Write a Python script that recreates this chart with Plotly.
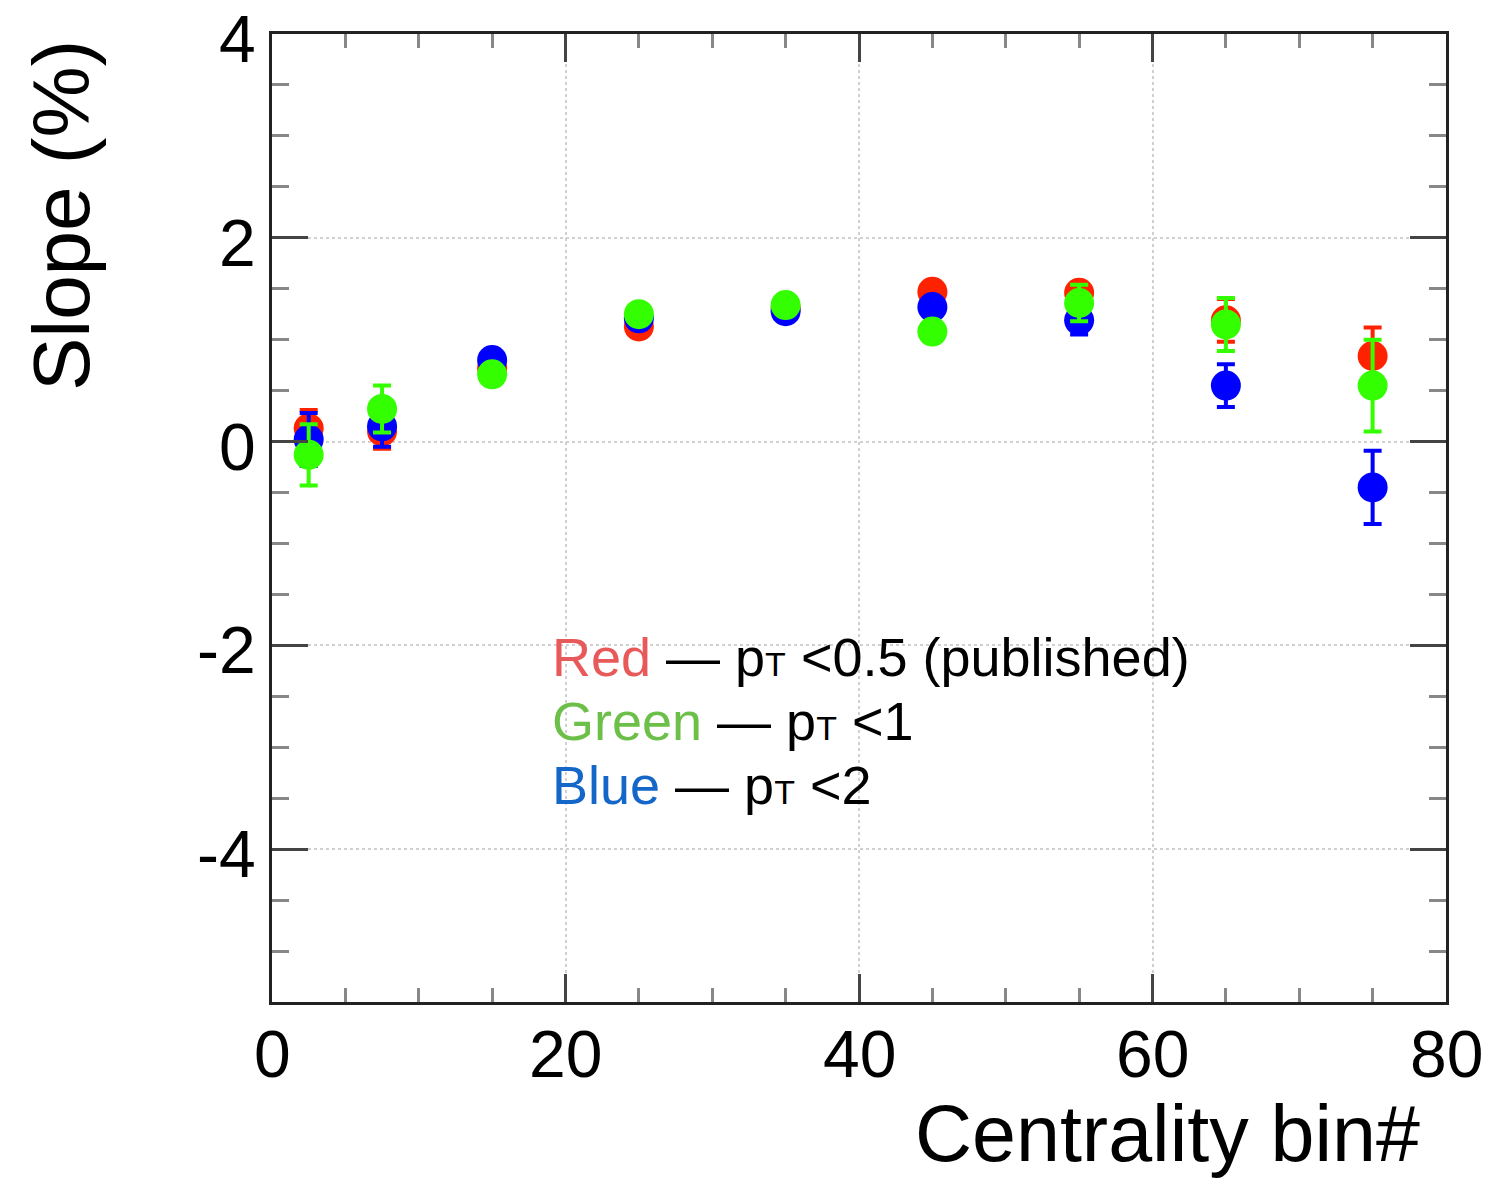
import plotly.graph_objects as go

# Centrality bins and measured slopes (%) for three pT cuts
centrality_bin = [2.5, 7.5, 15, 25, 35, 45, 55, 65, 75]

slope_pt05 = [0.13, 0.10, 0.72, 1.13, 1.31, 1.47, 1.46, 1.19, 0.84]
err_pt05 = [0.18, 0.17, 0.08, 0.08, 0.08, 0.08, 0.08, 0.21, 0.28]

slope_pt2 = [0.02, 0.15, 0.80, 1.21, 1.28, 1.32, 1.19, 0.55, -0.45]
err_pt2 = [0.26, 0.20, 0.08, 0.08, 0.08, 0.08, 0.14, 0.21, 0.36]

slope_pt1 = [-0.13, 0.32, 0.66, 1.25, 1.34, 1.08, 1.36, 1.15, 0.55]
err_pt1 = [0.30, 0.23, 0.08, 0.08, 0.08, 0.08, 0.18, 0.26, 0.45]

x_ticks = [0, 20, 40, 60, 80]
x_tick_text = ["0", "20", "40", "60", "80"]
y_ticks = [-4, -2, 0, 2, 4]
y_tick_text = ["-4", "-2", "0", "2", "4"]

FONT = "Liberation Sans, Arial, Helvetica, sans-serif"

fig = go.Figure()

# draw order: red, blue, green (green on top)
for y, err, col in [
    (slope_pt05, err_pt05, "#ff2200"),
    (slope_pt2, err_pt2, "#0000ff"),
    (slope_pt1, err_pt1, "#33ff00"),
]:
    fig.add_trace(go.Scatter(
        x=centrality_bin, y=y, mode="markers",
        marker=dict(size=30, color=col, line=dict(width=0)),
        error_y=dict(type="data", array=err, visible=True,
                     color=col, thickness=4, width=9),
        showlegend=False,
    ))

L, R, T, B = 272, 44, 34, 179
W, H = 1490, 1181
pw, ph = W - L - R, H - T - B


def px(xp):
    return (xp - L) / pw


def py(yp):
    return (H - B - yp) / ph


axis_common = dict(
    showline=True, linecolor="#222", linewidth=3, mirror="allticks",
    ticks="inside", tickwidth=3, tickcolor="#444",
    showgrid=True, gridcolor="#d0d0d0", gridwidth=2, griddash="dot",
    zeroline=False, automargin=False, showticklabels=False,
)

# tick labels are placed as annotations on the axis scales, set slightly
# off the axis the way the original style does
fig.update_xaxes(
    range=[0, 80], tickvals=x_ticks, ticklen=28,
    minor=dict(dtick=5, ticks="inside", ticklen=14, tickwidth=3,
               tickcolor="#888", showgrid=False),
    **axis_common,
)
fig.update_yaxes(
    range=[-5.5, 4.0001], tickvals=y_ticks, ticklen=36,
    minor=dict(dtick=0.5, ticks="inside", ticklen=17, tickwidth=3,
               tickcolor="#888", showgrid=False),
    **axis_common,
)

tick_font = dict(family=FONT, size=66, color="black")

annotations = [
    dict(text="Centrality bin#", x=px(1422), y=py(1134), xanchor="right",
         yanchor="middle", xref="paper", yref="paper",
         font=dict(family=FONT, size=79, color="black")),
    dict(text="Slope (%)", x=px(62), y=py(216), xanchor="center",
         yanchor="middle", textangle=-90, xref="paper", yref="paper",
         font=dict(family=FONT, size=80, color="black")),
]

for xv, lab in zip(x_ticks, x_tick_text):
    annotations.append(dict(
        text=lab, x=xv, xref="x", y=py(1054), yref="paper",
        xanchor="center", yanchor="middle", font=tick_font,
    ))

for yv, lab in zip(y_ticks, y_tick_text):
    annotations.append(dict(
        text=lab, x=px(258), xref="paper", y=yv, yref="y", yshift=-5,
        xanchor="right", yanchor="middle", font=tick_font,
    ))

sub_t = '<span style="font-size:34px">T</span>'
legend_lines = [
    ('<span style="color:#e85a5a">Red</span> — p' + sub_t + " &lt;0.5 (published)", 657),
    ('<span style="color:#6cc04a">Green</span> — p' + sub_t + " &lt;1", 721),
    ('<span style="color:#1466c8">Blue</span> — p' + sub_t + " &lt;2", 785),
]
for txt, yc in legend_lines:
    annotations.append(dict(
        text=txt, x=px(550), xref="paper", y=py(yc), yref="paper",
        xanchor="left", yanchor="middle",
        font=dict(family=FONT, size=54, color="black"),
    ))

for a in annotations:
    a.update(showarrow=False)

fig.update_layout(
    width=W, height=H,
    margin=dict(l=L, r=R, t=T, b=B),
    plot_bgcolor="white", paper_bgcolor="white",
    annotations=annotations,
)

fig.write_html("out.html")
